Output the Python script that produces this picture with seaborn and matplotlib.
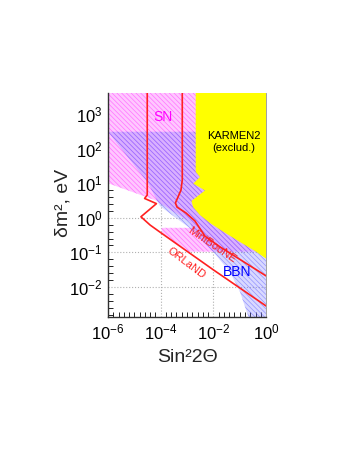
import numpy as np
import pandas as pd
import seaborn as sns
import matplotlib.pyplot as plt
from matplotlib.ticker import FixedLocator, NullFormatter

# all coordinates are log10 values: x = sin^2(2theta), y = delta m^2 [eV^2]
karmen_lx = [-2.67, -2.67, -2.51, -2.76, -2.32, -2.83, -2.77, -2.51, -2.13, -1.67, -0.99, -0.42, 0.0, 0.0]
karmen_ly = [4.0, 1.33, 1.18, 0.99, 0.79, 0.49, 0.31, 0.08, -0.15, -0.38, -0.70, -0.96, -1.18, 4.0]

sn_lx = [-6.0, -6.0, -4.21, -2.89, -2.81, -3.96, -3.96, -2.96, 0.0, 0.0]
sn_ly = [4.0, 1.0, 0.51, -0.12, -0.29, -0.29, -0.45, -0.98, -0.98, 4.0]

bbn_lx = [-6.0, -5.16, -4.48, -4.03, -2.89, -2.01, -1.37, -0.99, -0.61, 0.0, 0.0]
bbn_ly = [2.49, 1.67, 1.01, 0.34, -0.30, -0.98, -1.57, -2.14, -3.0, -3.0, 2.49]

orland_lx = [-4.51, -4.51, -4.61, -4.16, -4.75, -4.40, -3.96, -2.01, 0.0]
orland_ly = [4.0, 0.66, 0.56, 0.41, 0.03, -0.21, -0.45, -1.50, -2.55]

minib_lx = [-3.18, -3.18, -3.23, -3.44, -3.38, -3.04, -2.70, -2.32, -1.75, 0.0]
minib_ly = [4.0, 1.09, 0.80, 0.43, 0.31, 0.14, -0.09, -0.53, -0.84, -1.68]

x_ticks = [-6, -4, -2, 0]
y_ticks = [-2, -1, 0, 1, 2, 3]

sns.set_style('white')
plt.rcParams['font.family'] = ['Liberation Sans', 'DejaVu Sans']
plt.rcParams['mathtext.fontset'] = 'custom'
plt.rcParams['mathtext.rm'] = 'Liberation Sans'
plt.rcParams['mathtext.it'] = 'Liberation Sans:italic'
plt.rcParams['hatch.linewidth'] = 0.5

fig = plt.figure(figsize=(3.6, 4.66), dpi=100)
ax = fig.add_axes([0.300, 0.3197, 0.439, 0.4807])
ax.set_xscale('log')
ax.set_yscale('log')

p = lambda v: np.power(10.0, v)

ax.fill(p(sn_lx), p(sn_ly), facecolor=(1.0, 0.78, 1.0), edgecolor=(1.0, 0.45, 1.0),
        hatch='\\' * 7, linewidth=0, zorder=1)
ax.fill(p(bbn_lx), p(bbn_ly), facecolor=(0.45, 0.45, 1.0, 0.27), edgecolor=(0.4, 0.4, 1.0, 0.6),
        hatch='\\' * 7, linewidth=0, zorder=2)
ax.fill(p(karmen_lx), p(karmen_ly), facecolor='#ffff00', linewidth=0, zorder=3)

lines = pd.concat([
    pd.DataFrame({'x': p(orland_lx), 'y': p(orland_ly), 'exp': 'ORLaND'}),
    pd.DataFrame({'x': p(minib_lx), 'y': p(minib_ly), 'exp': 'MiniBooNE'}),
])
sns.lineplot(data=lines, x='x', y='y', units='exp', estimator=None, sort=False,
             color='#ff2020', linewidth=1.2, ax=ax, zorder=4)

ax.set_xlim(1e-6, 1.0)
ax.set_ylim(p(-2.87), p(3.61))

# grid
for v in [-4, -2]:
    ax.axvline(p(v), color='#b0b0b0', linestyle=':', linewidth=0.8, zorder=0.5)
for v in y_ticks:
    ax.axhline(p(v), color='#b0b0b0', linestyle=':', linewidth=0.8, zorder=0.5)

ax.xaxis.set_major_locator(FixedLocator(p(x_ticks)))
ax.xaxis.set_minor_locator(FixedLocator(p(np.arange(-6, 0.01, 0.2))))
ax.yaxis.set_major_locator(FixedLocator(p(y_ticks)))
ax.yaxis.set_minor_locator(FixedLocator(p(np.arange(-2.8, 3.61, 0.2))))
ax.xaxis.set_minor_formatter(NullFormatter())
ax.yaxis.set_minor_formatter(NullFormatter())
ax.set_xticklabels([r'$10^{\mathit{%d}}$' % t for t in x_ticks])
ax.set_yticklabels([r'$10^{\mathit{%d}}$' % t for t in y_ticks])
ax.tick_params(which='both', direction='in', labelsize=12, pad=4, colors='black')
ax.tick_params(which='major', length=7, width=0.8)
ax.tick_params(which='minor', length=3.5, width=0.6, bottom=True, left=True)

ax.spines['top'].set_visible(False)
ax.spines['right'].set_color('#909090')
ax.spines['right'].set_linewidth(0.6)
for s in ['left', 'bottom']:
    ax.spines[s].set_color('#303030')
    ax.spines[s].set_linewidth(1.0)

ax.set_xlabel('Sin²2Θ', fontsize=14, labelpad=5)
ax.set_ylabel('δm², eV', fontsize=14)
ax.yaxis.set_label_coords(-0.23, 0.51)

ax.text(p(-3.91), p(2.91), 'SN', color='#ff00ff', fontsize=10, ha='center', va='center', zorder=5)
ax.text(p(-1.21), p(2.19), 'KARMEN2\n(exclud.)', color='black', fontsize=8,
        ha='center', va='center', linespacing=1.3, zorder=5)
ax.text(p(-2.06), p(-0.79), 'MiniBooNE', color='#ff2020', fontsize=8, rotation=-34,
        ha='center', va='center', zorder=5)
ax.text(p(-3.01), p(-1.32), 'ORLaND', color='#ff2020', fontsize=8, rotation=-37,
        ha='center', va='center', zorder=5)
ax.text(p(-1.08), p(-1.56), 'BBN', color='#0000ff', fontsize=10, ha='center', va='center', zorder=5)

fig.savefig('out.png', dpi=100)
